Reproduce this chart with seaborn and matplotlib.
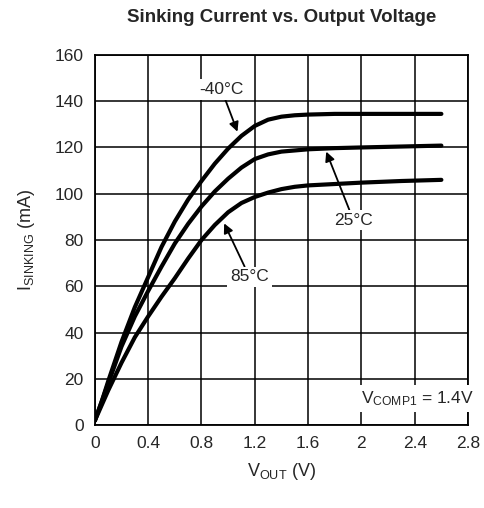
import numpy as np
import pandas as pd
import seaborn as sns
import matplotlib
matplotlib.use("Agg")
import matplotlib.pyplot as plt

# curves (V, mA)
v_m40 = [0, 0.05, 0.1, 0.2, 0.3, 0.4, 0.5, 0.6, 0.7, 0.8, 0.9, 1.0, 1.1, 1.2, 1.3, 1.4, 1.5, 1.6, 1.8, 2.2, 2.6]
i_m40 = [2, 10, 19, 36, 51, 64, 77, 88, 97.5, 105.5, 113, 119.5, 125, 129.3, 132, 133.3, 133.9, 134.2, 134.5, 134.5, 134.5]

v_25 = [0, 0.1, 0.2, 0.3, 0.4, 0.5, 0.6, 0.7, 0.8, 0.9, 1.0, 1.1, 1.2, 1.3, 1.4, 1.6, 1.8, 2.0, 2.3, 2.6]
i_25 = [2, 18, 34, 47, 58, 68.5, 78.5, 87, 94.5, 101, 106.5, 111.3, 115, 117, 118.2, 119.2, 119.7, 120, 120.4, 120.8]

v_85 = [0, 0.1, 0.2, 0.3, 0.4, 0.5, 0.6, 0.7, 0.8, 0.9, 1.0, 1.1, 1.2, 1.3, 1.4, 1.5, 1.6, 2.0, 2.3, 2.6]
i_85 = [2, 15, 27, 38, 47, 55.5, 63.5, 72, 80, 86.5, 92, 96, 98.6, 100.5, 102, 103, 103.6, 104.8, 105.5, 106]

temps = ['-40°C', '25°C', '85°C']

df = pd.concat([
    pd.DataFrame({'V': v_m40, 'I': i_m40, 'T': temps[0]}),
    pd.DataFrame({'V': v_25, 'I': i_25, 'T': temps[1]}),
    pd.DataFrame({'V': v_85, 'I': i_85, 'T': temps[2]}),
])

sns.set_style("white")
plt.rcParams['font.family'] = ['Liberation Sans', 'DejaVu Sans']
plt.rcParams['mathtext.fontset'] = 'custom'
plt.rcParams['mathtext.rm'] = 'Liberation Sans'
plt.rcParams['mathtext.it'] = 'Liberation Sans'

fig = plt.figure(figsize=(4.84, 5.08), dpi=100)
ax = fig.add_axes([0.196, 0.163, 0.771, 0.729])

sns.lineplot(data=df, x='V', y='I', hue='T', palette=['black'] * 3,
             legend=False, ax=ax, linewidth=3, sort=False)

ax.set_xlim(0, 2.8)
ax.set_ylim(0, 160)
ax.set_xticks(np.arange(0, 2.81, 0.4))
ax.set_xticklabels(['0', '0.4', '0.8', '1.2', '1.6', '2', '2.4', '2.8'])
ax.set_yticks(np.arange(0, 161, 20))
ax.tick_params(length=0, labelsize=12.5, pad=8)
ax.grid(True, color='black', linewidth=1.1)
for s in ax.spines.values():
    s.set_color('black')
    s.set_linewidth(1.3)

ax.set_xlabel(r'V$_{\mathrm{OUT}}$ (V)', fontsize=13, labelpad=7)
ax.set_ylabel(r'I$_{\mathrm{SINKING}}$ (mA)', fontsize=13, labelpad=13)
ax.set_title('Sinking Current vs. Output Voltage', fontsize=13.5,
             fontweight='bold', pad=24)

box = dict(facecolor='white', edgecolor='none', pad=2)
arrow = dict(arrowstyle='-|>', color='black', lw=1.3, mutation_scale=14, shrinkA=0, shrinkB=0)
ax.annotate('-40°C', xy=(1.07, 126.8), xytext=(0.95, 145), fontsize=12.5,
            ha='center', va='center', bbox=box, arrowprops=arrow)
ax.annotate('25°C', xy=(1.736, 118.2), xytext=(1.94, 88.6), fontsize=12.5,
            ha='center', va='center', bbox=box, arrowprops=arrow)
ax.annotate('85°C', xy=(0.97, 87.2), xytext=(1.16, 64.1), fontsize=12.5,
            ha='center', va='center', bbox=box, arrowprops=arrow)
ax.text(2.42, 11.5, r'V$_{\mathrm{COMP1}}$ = 1.4V', fontsize=12.5,
        ha='center', va='center', bbox=dict(facecolor='white', edgecolor='none', pad=3))

fig.savefig('out.png', dpi=100)
